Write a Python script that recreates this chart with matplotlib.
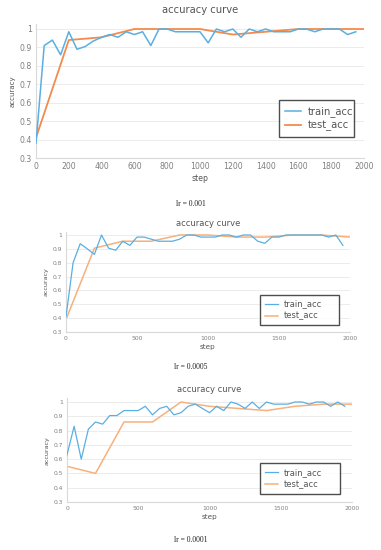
import matplotlib
matplotlib.use("Agg")
import matplotlib.pyplot as plt

steps_train = list(range(0, 2000, 50))
steps_test = list(range(0, 2001, 200))

train_1 = [0.38, 0.91, 0.94, 0.86, 0.985, 0.89, 0.905, 0.935, 0.955, 0.97,
           0.955, 0.985, 0.97, 0.985, 0.91, 1.0, 1.0, 0.985, 0.985, 0.985,
           0.985, 0.925, 1.0, 0.985, 1.0, 0.955, 1.0, 0.985, 1.0, 0.985,
           0.985, 0.985, 1.0, 1.0, 0.985, 1.0, 1.0, 1.0, 0.97, 0.985]
test_1 = [0.41, 0.94, 0.955, 1.0, 1.0, 1.0, 0.97, 0.985, 1.0, 1.0, 1.0]

train_2 = [0.41, 0.80, 0.937, 0.90, 0.86, 1.0, 0.905, 0.89, 0.955, 0.925,
           0.985, 0.985, 0.97, 0.955, 0.955, 0.955, 0.97, 1.0, 1.0, 0.985,
           0.985, 0.985, 1.0, 1.0, 0.985, 1.0, 1.0, 0.955, 0.94, 0.985,
           0.985, 1.0, 1.0, 1.0, 1.0, 1.0, 1.0, 0.985, 1.0, 0.925]
test_2 = [0.39, 0.905, 0.955, 0.955, 1.0, 1.0, 0.985, 0.985, 1.0, 1.0, 0.985]

train_3 = [0.63, 0.83, 0.60, 0.81, 0.86, 0.845, 0.905, 0.905, 0.94, 0.94,
           0.94, 0.97, 0.91, 0.955, 0.97, 0.91, 0.925, 0.97, 0.985, 0.955,
           0.925, 0.97, 0.94, 1.0, 0.985, 0.955, 1.0, 0.955, 1.0, 0.985,
           0.985, 0.985, 1.0, 1.0, 0.985, 1.0, 1.0, 0.97, 1.0, 0.97]
test_3 = [0.55, 0.50, 0.86, 0.86, 1.0, 0.97, 0.955, 0.94, 0.97, 0.985, 0.985]

yticks = [0.3, 0.4, 0.5, 0.6, 0.7, 0.8, 0.9, 1.0]
yticklabels = ["0.3", "0.4", "0.5", "0.6", "0.7", "0.8", "0.9", "1"]
xticks_1 = [0, 200, 400, 600, 800, 1000, 1200, 1400, 1600, 1800, 2000]
xticks_23 = [0, 500, 1000, 1500, 2000]
captions = ["lr = 0.001", "lr = 0.0005", "lr = 0.0001"]

W, H = 381, 550
fig = plt.figure(figsize=(W / 100, H / 100), dpi=100)
fig.patch.set_facecolor("white")

BLUE = "#5aafe2"
GRAY = "#7f7f7f"


def make_axes(px0, px1, py1, py03, ytop_val=1.025):
    ppu = (py03 - py1) / 0.7
    ytop = py1 - (ytop_val - 1.0) * ppu
    left = px0 / W
    width = (px1 - px0) / W
    bottom = 1 - py03 / H
    height = (py03 - ytop) / H
    ax = fig.add_axes([left, bottom, width, height])
    ax.set_xlim(0, 2000)
    ax.set_ylim(0.3, ytop_val)
    return ax


panels = [
    dict(px=(36, 364), py=(29, 158), train=train_1, test=test_1,
         orange="#f38b4c", xt=xticks_1, tfs=5.6, title_fs=7.2, title_y=10,
         lab_fs=5.6, leg=(279, 100, 354, 136), leg_fs=7.2, cap_y=204,
         lw=1.1, bp=0.6),
    dict(px=(66, 350), py=(235, 332), train=train_2, test=test_2,
         orange="#f7b07c", xt=xticks_23, tfs=4.3, title_fs=6.0, title_y=224,
         lab_fs=5.2, leg=(260, 295, 339, 322), leg_fs=6.0, cap_y=367,
         lw=0.9, bp=0.55),
    dict(px=(67, 352), py=(402, 502), train=train_3, test=test_3,
         orange="#f8b07c", xt=xticks_23, tfs=4.3, title_fs=6.0, title_y=390,
         lab_fs=5.2, leg=(260, 463, 340, 492), leg_fs=6.0, cap_y=540,
         lw=0.9, bp=0.6),
]

for i, p in enumerate(panels):
    ax = make_axes(p["px"][0], p["px"][1], p["py"][0], p["py"][1])
    for y in yticks[1:]:
        ax.axhline(y, color="#ececec", lw=0.7, zorder=0)
    ax.plot(steps_train, p["train"], color=BLUE, lw=p["lw"], label="train_acc", zorder=3)
    ax.plot(steps_test, p["test"], color=p["orange"], lw=p["lw"] + 0.2, label="test_acc", zorder=2)
    ax.set_xticks(p["xt"])
    ax.set_xticklabels([str(v) for v in p["xt"]])
    ax.set_yticks(yticks)
    ax.set_yticklabels(yticklabels)
    ax.tick_params(axis="both", length=0, labelsize=p["tfs"], colors=GRAY, pad=3)
    for s in ["top", "right"]:
        ax.spines[s].set_visible(False)
    for s in ["left", "bottom"]:
        ax.spines[s].set_color("#d9d9d9")
        ax.spines[s].set_linewidth(0.8)
    ax.set_xlabel("step", fontsize=p["lab_fs"], color="#555555", labelpad=2)
    ax.set_ylabel("accuracy", fontsize=p["lab_fs"] - 0.6, color="#555555", labelpad=3)
    fig.text((p["px"][0] + p["px"][1]) / 2 / W, 1 - p["title_y"] / H, "accuracy curve",
             ha="center", va="center", fontsize=p["title_fs"], color="#555555")
    lx0, ly0, lx1, ly1 = p["leg"]
    leg = ax.legend(loc="upper left",
                    bbox_to_anchor=(lx0 / W, 1 - ly1 / H, (lx1 - lx0) / W, (ly1 - ly0) / H),
                    bbox_transform=fig.transFigure, mode="expand",
                    fontsize=p["leg_fs"], frameon=True, fancybox=False,
                    handlelength=1.6, handletextpad=0.7, borderpad=p["bp"],
                    labelspacing=0.35, borderaxespad=0)
    leg.get_frame().set_edgecolor("#222222")
    leg.get_frame().set_linewidth(1.0)
    for t in leg.get_texts():
        t.set_color("#555555")
    fig.text(0.5, 1 - p["cap_y"] / H, captions[i],
             ha="center", va="center", fontsize=5.5, family="Liberation Serif",
             color="#222222")

fig.savefig("out.png", dpi=100, facecolor="white")
